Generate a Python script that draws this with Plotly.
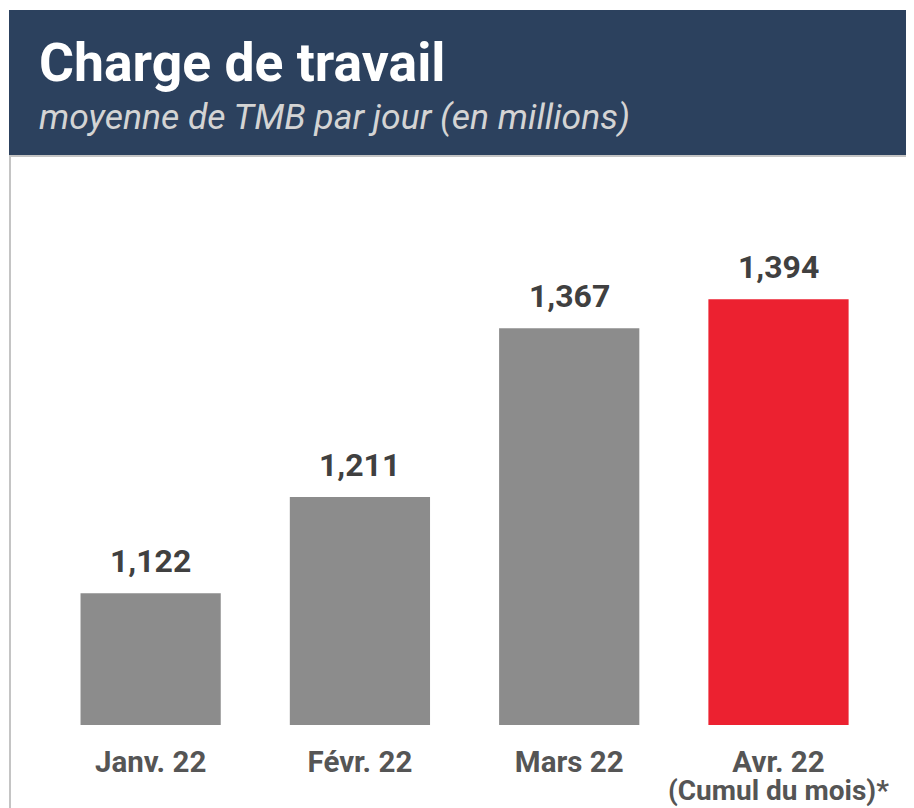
import plotly.graph_objects as go

# data
months = ["Janv. 22", "Févr. 22", "Mars 22", "Avr. 22"]
workload = [1122, 1211, 1367, 1394]
value_labels = ["1,122", "1,211", "1,367", "1,394"]
bar_colors = ["#8c8c8c", "#8c8c8c", "#8c8c8c", "#ec2130"]
note_month = "Avr. 22"
note_text = "(Cumul du mois)*"
title = "Charge de travail"
subtitle = "moyenne de TMB par jour (en millions)"

# page has an 8px body margin; keep the figure inside the window width
OFF = 8
W, H = 914 - 2 * OFF, 808 - OFF
L, R, T, B = 38, 15, 149, 83
PW, PH = W - L - R, H - T - B


def px_x(p):
    # page pixel -> paper x
    return (p - OFF - L) / PW


def px_y(p):
    # page pixel -> paper y
    return (H - B - (p - OFF)) / PH


fig = go.Figure(
    go.Bar(
        x=months,
        y=workload,
        marker=dict(color=bar_colors, line=dict(width=0)),
        hoverinfo="skip",
    )
)

for m, v, lab in zip(months, workload, value_labels):
    fig.add_annotation(
        x=m, y=v, text=lab, showarrow=False, yanchor="bottom", yshift=11,
        font=dict(family="Roboto", size=32, color="#404040", weight=700),
    )

fig.add_annotation(
    x=note_month, y=px_y(790), yref="paper", text=note_text, showarrow=False,
    yanchor="middle", font=dict(family="Roboto", size=28, color="#555555", weight=700),
)

# header band
fig.add_shape(type="rect", xref="paper", yref="paper",
              x0=px_x(9), x1=px_x(930), y0=px_y(155), y1=px_y(10),
              fillcolor="#2c415e", line=dict(width=0), layer="below")
fig.add_shape(type="line", xref="paper", yref="paper",
              x0=px_x(9), x1=px_x(930), y0=px_y(156), y1=px_y(156),
              line=dict(color="#c4c4c4", width=2))
fig.add_shape(type="line", xref="paper", yref="paper",
              x0=px_x(10), x1=px_x(10), y0=px_y(156), y1=px_y(815),
              line=dict(color="#c4c4c4", width=2))

fig.add_annotation(
    x=px_x(37), y=px_y(62), xref="paper", yref="paper", text=title,
    showarrow=False, xanchor="left", yanchor="middle",
    font=dict(family="Roboto", size=53.5, color="white", weight=700),
)
fig.add_annotation(
    x=px_x(37), y=px_y(117), xref="paper", yref="paper", text=subtitle,
    showarrow=False, xanchor="left", yanchor="middle",
    font=dict(family="Roboto", size=35.5, color="#d4d4d4", style="italic"),
)

fig.update_layout(
    width=W, height=H,
    margin=dict(l=L, r=R, t=T, b=B),
    paper_bgcolor="white", plot_bgcolor="white",
    bargap=0.33, showlegend=False,
)
fig.update_xaxes(
    showgrid=False, showline=False, ticks="", ticklabelstandoff=16,
    tickfont=dict(family="Roboto", size=29.5, color="#555555", weight=700),
)
fig.update_yaxes(
    range=[1000, 1000 + PH / 1.0809], visible=False, showgrid=False,
)

fig.write_html("out.html")
